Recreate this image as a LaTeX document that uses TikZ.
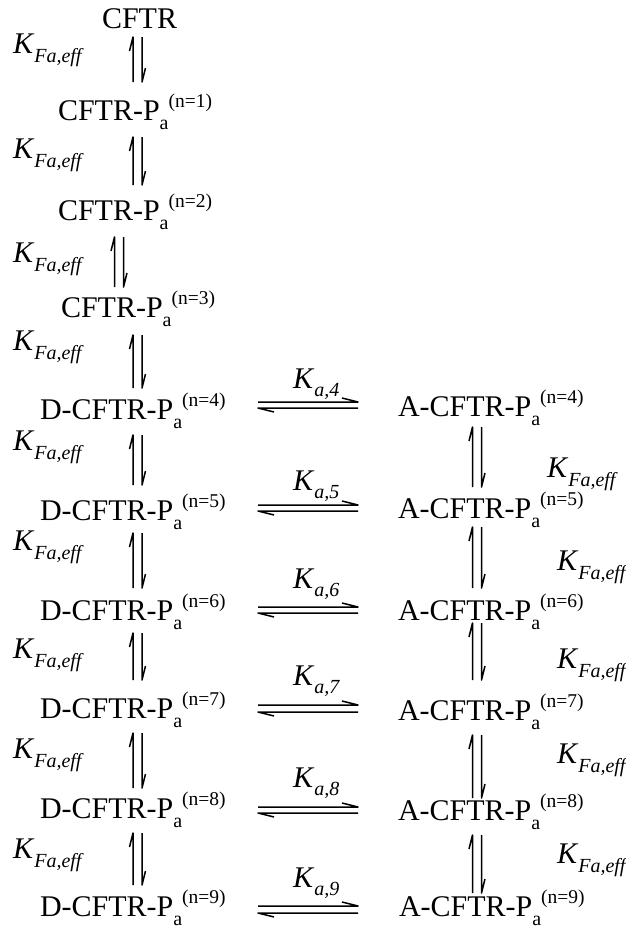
\documentclass[tikz,border=0pt]{standalone}
\usepackage{fontspec}
\setmainfont{Liberation Serif}
\newcommand{\sz}[1]{\fontsize{#1}{#1}\selectfont}
\newcommand{\specie}[2]{\sz{30}#1-P\raisebox{-9.5pt}{\sz{20}a}\raisebox{13pt}{\sz{19.5}(n=#2)}}
\newcommand{\kfa}{\sz{30}\textit{K}\raisebox{-9pt}{\sz{20}\textit{Fa,eff}}}
\newcommand{\kax}[1]{\sz{30}\textit{K}\raisebox{-8pt}{\sz{20}\textit{a,#1}}}
\tikzset{
  lbl/.style={anchor=base west, inner sep=0pt, outer sep=0pt},
  harp/.style={line width=1.5pt, line join=round, line cap=butt, black}
}
% vertical equilibrium: centre x, top y, bottom y
\newcommand{\veq}[3]{%
  \draw[harp] (#1-4.5,#3) -- (#1-4.5,#2) -- (#1-8,#2+14);
  \draw[harp] (#1+4.5,#2) -- (#1+4.5,#3) -- (#1+8,#3-14);}
% horizontal equilibrium: left x, right x, top y, bottom y
\newcommand{\heq}[4]{%
  \draw[harp] (#1,#3) -- (#2,#3) -- (#2-16,#3-4);
  \draw[harp] (#2,#4) -- (#1,#4) -- (#1+16,#4+4);}
\begin{document}
\begin{tikzpicture}[x=1pt,y=-1pt]
\useasboundingbox (0,0) rectangle (626,930);
% left column species
\node[lbl] (s0) at (102,28) {\sz{30}CFTR};
\node[lbl] (s1) at (58,120) {\specie{CFTR}{1}};
\node[lbl] (s2) at (58,220) {\specie{CFTR}{2}};
\node[lbl] (s3) at (61,317) {\specie{CFTR}{3}};
\node[lbl] (d4) at (40,419) {\specie{D-CFTR}{4}};
\node[lbl] (d5) at (40,520) {\specie{D-CFTR}{5}};
\node[lbl] (d6) at (40,620) {\specie{D-CFTR}{6}};
\node[lbl] (d7) at (40,718) {\specie{D-CFTR}{7}};
\node[lbl] (d8) at (40,818) {\specie{D-CFTR}{8}};
\node[lbl] (d9) at (40,916) {\specie{D-CFTR}{9}};
% right column species
\node[lbl] (a4) at (398,416) {\specie{A-CFTR}{4}};
\node[lbl] (a5) at (398,518) {\specie{A-CFTR}{5}};
\node[lbl] (a6) at (398,620) {\specie{A-CFTR}{6}};
\node[lbl] (a7) at (398,720) {\specie{A-CFTR}{7}};
\node[lbl] (a8) at (398,820) {\specie{A-CFTR}{8}};
\node[lbl] (a9) at (399,916) {\specie{A-CFTR}{9}};
% left rate labels
\node[lbl] (kl1) at (13,53) {\kfa};
\node[lbl] (kl2) at (13,158) {\kfa};
\node[lbl] (kl3) at (13,262) {\kfa};
\node[lbl] (kl4) at (13,350) {\kfa};
\node[lbl] (kl5) at (13,450) {\kfa};
\node[lbl] (kl6) at (13,550) {\kfa};
\node[lbl] (kl7) at (13,658) {\kfa};
\node[lbl] (kl8) at (13,758) {\kfa};
\node[lbl] (kl9) at (13,858) {\kfa};
% right rate labels
\node[lbl] (kr1) at (547,477) {\kfa};
\node[lbl] (kr2) at (557,570) {\kfa};
\node[lbl] (kr3) at (557,668) {\kfa};
\node[lbl] (kr4) at (557,763) {\kfa};
\node[lbl] (kr5) at (557,863) {\kfa};
% horizontal labels
\node[lbl] (ka4) at (293,388) {\kax{4}};
\node[lbl] (ka5) at (293,490) {\kax{5}};
\node[lbl] (ka6) at (293,588) {\kax{6}};
\node[lbl] (ka7) at (293,685) {\kax{7}};
\node[lbl] (ka8) at (293,787) {\kax{8}};
\node[lbl] (ka9) at (293,887) {\kax{9}};
% vertical equilibria, left column
\veq{137.5}{37}{82}
\veq{137.5}{137}{185}
\veq{119}{237}{287}
\veq{137.5}{335}{388}
\veq{137.5}{435}{485}
\veq{137.5}{533}{588}
\veq{137.5}{633}{680}
\veq{137.5}{733}{788}
\veq{137.5}{833}{885}
% vertical equilibria, right column
\veq{477}{427}{487}
\veq{477}{527}{588}
\veq{477}{623}{680}
\veq{477}{735}{798}
\veq{477}{835}{893}
% horizontal equilibria
\heq{258}{358}{402}{408}
\heq{258}{358}{505}{511}
\heq{258}{358}{607}{613}
\heq{258}{358}{705}{712}
\heq{258}{358}{807}{813}
\heq{258}{358}{906}{913}
\end{tikzpicture}
\end{document}
